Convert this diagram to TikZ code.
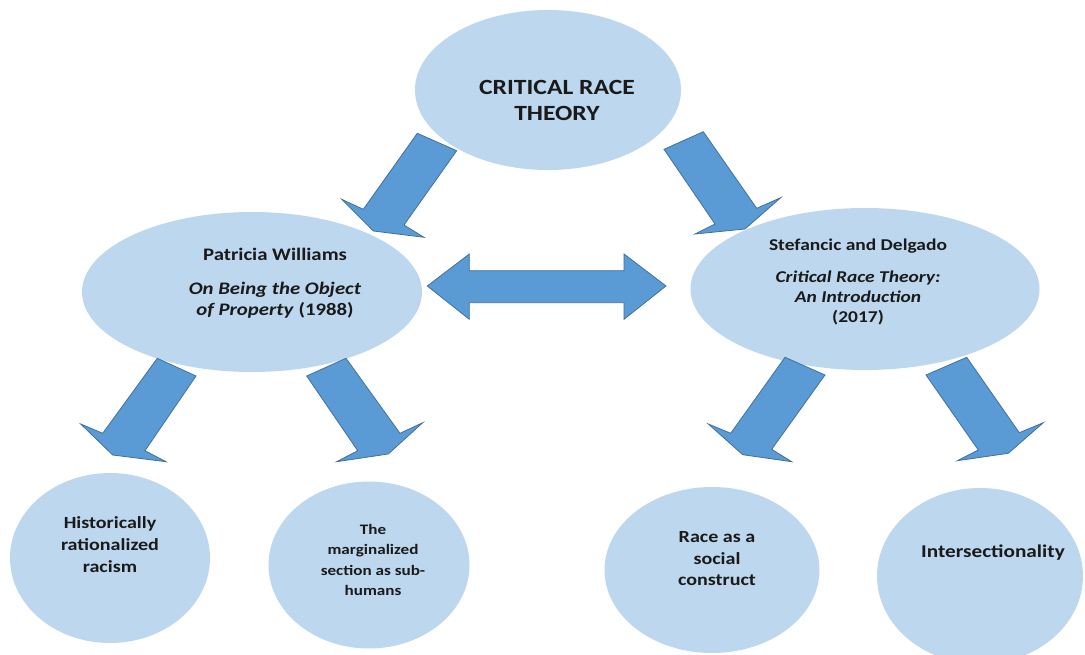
\documentclass[tikz,border=0pt]{standalone}
\usepackage{fontspec}
\setmainfont{Carlito}[FakeStretch=1.18]
\usetikzlibrary{shapes.geometric}

\definecolor{bubblefill}{HTML}{BDD7EE}
\definecolor{arrowfill}{HTML}{5B9BD5}
\definecolor{arrowline}{HTML}{41719C}
\definecolor{inkc}{HTML}{1A1A1A}

\tikzset{
  bubble/.style={ellipse, fill=bubblefill, draw=none, inner sep=0pt},
  blockarrow/.style={fill=arrowfill, draw=arrowline, line width=0.8pt, line join=miter},
  lbl/.style={align=center, text=inkc, inner sep=0pt},
}

\begin{document}
\begin{tikzpicture}[x=1pt, y=-1pt]
  \useasboundingbox (0,0) rectangle (1085,655);
  \clip (0,0) rectangle (1085,655);
  \fill[white] (0,0) rectangle (1085,655);

  % ---- ellipses ----
  \node[bubble, minimum width=266pt, minimum height=160pt] (crt)   at (548,90)  {};
  \node[bubble, minimum width=340pt, minimum height=160pt] (pw)    at (252,292) {};
  \node[bubble, minimum width=349pt, minimum height=162pt] (sd)    at (865,289) {};
  \node[bubble, minimum width=200pt, minimum height=170pt] (hist)  at (110,558) {};
  \node[bubble, minimum width=201pt, minimum height=167pt] (marg)  at (369,565) {};
  \node[bubble, minimum width=215pt, minimum height=166pt] (race)  at (712,570) {};
  \node[bubble, minimum width=206pt, minimum height=176pt] (inter) at (980,576) {};

  % ---- labels ----
  \node[lbl, font=\bfseries\fontsize{21.7}{26}\selectfont] (crtlbl) at (557,100)
    {CRITICAL RACE\\THEORY};
  \node[lbl, font=\bfseries\fontsize{17.6}{21}\selectfont] (pwlbl) at (275,283)
    {Patricia Williams\\[13pt]\textit{On Being the Object}\\\textit{of Property} (1988)};
  \node[lbl, font=\bfseries\fontsize{16.5}{20}\selectfont] (sdlbl) at (858,282)
    {Stefancic and Delgado\\[12pt]\textit{Critical Race Theory:}\\\textit{An Introduction}\\(2017)};
  \node[lbl, font=\bfseries\fontsize{17}{22}\selectfont] (histlbl) at (110,545)
    {Historically\\rationalized\\racism};
  \node[lbl, font=\bfseries\fontsize{14.5}{20.3}\selectfont] (marglbl) at (373,560)
    {The\\marginalized\\section as sub-\\humans};
  \node[lbl, font=\bfseries\fontsize{17}{21.5}\selectfont] (racelbl) at (717,559)
    {Race as a\\social\\construct};
  \node[lbl, font=\bfseries\fontsize{18}{22}\selectfont] (interlbl) at (993,553)
    {Intersectionality};

  % ---- block arrows ----
  % critical race theory -> Patricia Williams
  \path[blockarrow] (417.3,133.3) -- (456.7,150.7) -- (404,225) -- (424,237.3)
    -- (373.3,231) -- (341.7,199.3) -- (363.3,209.3) -- cycle;
  % critical race theory -> Stefancic and Delgado
  \path[blockarrow] (664,149.3) -- (703.3,131.7) -- (756.7,208.3) -- (780.7,197.7)
    -- (745,229) -- (695,234) -- (715,224) -- cycle;
  % Patricia Williams -> historically rationalized racism
  \path[blockarrow] (157.3,358.3) -- (196,376) -- (145,450.7) -- (166,461.7)
    -- (112.7,455) -- (80.7,424) -- (102.7,433.3) -- cycle;
  % Patricia Williams -> marginalized section
  \path[blockarrow] (306.7,376) -- (346,358.3) -- (400,433.3) -- (422.7,422.7)
    -- (388.3,454) -- (336.7,461.7) -- (357.7,450.7) -- cycle;
  % Stefancic and Delgado -> race as a social construct
  \path[blockarrow] (785,357.3) -- (825,375) -- (771.7,449.3) -- (791.7,461.7)
    -- (742.7,454.7) -- (708.3,424) -- (730.7,433.3) -- cycle;
  % Stefancic and Delgado -> intersectionality
  \path[blockarrow] (926,375) -- (966.7,357.3) -- (1019.3,432.7) -- (1043.3,422.7)
    -- (1008.3,453.3) -- (957.3,460.7) -- (978.3,450) -- cycle;
  % two-headed arrow between the two sources
  \path[blockarrow] (427.3,286) -- (469.3,254) -- (469.3,270.7) -- (624,270.7)
    -- (624,254) -- (666,286) -- (624,319.3) -- (624,302.7) -- (469.3,302.7)
    -- (469.3,319.3) -- cycle;
\end{tikzpicture}
\end{document}
